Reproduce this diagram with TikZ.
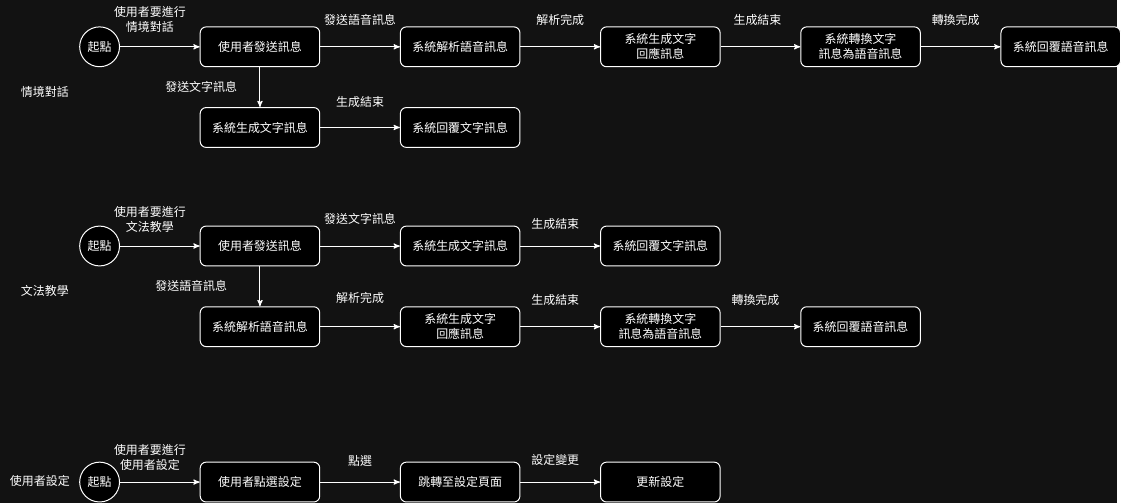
\documentclass[tikz,border=0pt]{standalone}
\usepackage{fontspec}
\setmainfont{Noto Sans CJK TC}
\usetikzlibrary{arrows,positioning}
\definecolor{canvas}{HTML}{121212}

\begin{document}
\begin{tikzpicture}[x=0.75pt,y=-0.75pt,
    font=\fontsize{9}{11.25}\selectfont, text=white,
    start/.style={circle,draw=white,fill=black,line width=0.75pt,minimum size=30pt,inner sep=0pt},
    stepbox/.style={rectangle,rounded corners=4.5pt,draw=white,fill=black,line width=0.75pt,
        minimum width=90pt,minimum height=30pt,inner sep=0pt,align=center},
    flow/.style={-stealth',draw=white,line width=0.75pt},
    lbl/.style={inner sep=0pt,align=center},
    node distance=30pt and 60pt]
    \fill[canvas] (0,0) rectangle (1121,505);

    % 情境對話
    \node[lbl] (t1) at (45,92) {情境對話};
    \node[start] (s1) at (100,47) {起點};
    \node[stepbox] (a1) [right=of s1] {使用者發送訊息};
    \node[stepbox] (b1) [right=of a1] {系統解析語音訊息};
    \node[stepbox] (c1) [right=of b1] {系統生成文字\\回應訊息};
    \node[stepbox] (d1) [right=of c1] {系統轉換文字\\訊息為語音訊息};
    \node[stepbox] (e1) [right=of d1] {系統回覆語音訊息};
    \node[stepbox] (f1) [below=of a1] {系統生成文字訊息};
    \node[stepbox] (g1) [right=of f1] {系統回覆文字訊息};
    \draw[flow] (s1) -- node[lbl,yshift=20.25pt,xshift=-7.5pt] {使用者要進行\\情境對話} (a1);
    \draw[flow] (a1) -- node[lbl,yshift=20.25pt] {發送語音訊息} (b1);
    \draw[flow] (b1) -- node[lbl,yshift=20.25pt] {解析完成} (c1);
    \draw[flow] (c1) -- node[lbl,yshift=20.25pt,xshift=-2.25pt] {生成結束} (d1);
    \draw[flow] (d1) -- node[lbl,yshift=20.25pt,xshift=-3.75pt] {轉換完成} (e1);
    \draw[flow] (a1) -- node[lbl,xshift=-44.25pt] {發送文字訊息} (f1);
    \draw[flow] (f1) -- node[lbl,yshift=19.5pt] {生成結束} (g1);

    % 文法教學
    \node[lbl] (t2) at (45,292) {文法教學};
    \node[start] (s2) at (100,247) {起點};
    \node[stepbox] (a2) [right=of s2] {使用者發送訊息};
    \node[stepbox] (b2) [right=of a2] {系統生成文字訊息};
    \node[stepbox] (c2) [right=of b2] {系統回覆文字訊息};
    \node[stepbox] (d2) [below=of a2] {系統解析語音訊息};
    \node[stepbox] (e2) [right=of d2] {系統生成文字\\回應訊息};
    \node[stepbox] (f2) [right=of e2] {系統轉換文字\\訊息為語音訊息};
    \node[stepbox] (g2) [right=of f2] {系統回覆語音訊息};
    \draw[flow] (s2) -- node[lbl,yshift=20.25pt,xshift=-7.5pt] {使用者要進行\\文法教學} (a2);
    \draw[flow] (a2) -- node[lbl,yshift=20.25pt] {發送文字訊息} (b2);
    \draw[flow] (b2) -- node[lbl,yshift=16.5pt,xshift=-3.75pt] {生成結束} (c2);
    \draw[flow] (a2) -- node[lbl,xshift=-51.75pt] {發送語音訊息} (d2);
    \draw[flow] (d2) -- node[lbl,yshift=21.75pt] {解析完成} (e2);
    \draw[flow] (e2) -- node[lbl,yshift=20.25pt,xshift=-3.75pt] {生成結束} (f2);
    \draw[flow] (f2) -- node[lbl,yshift=20.25pt,xshift=-3.75pt] {轉換完成} (g2);

    % 使用者設定
    \node[lbl] (t3) at (40,483) {使用者設定};
    \node[start] (s3) at (100,484) {起點};
    \node[stepbox] (a3) [right=of s3] {使用者點選設定};
    \node[stepbox] (b3) [right=of a3] {跳轉至設定頁面};
    \node[stepbox] (c3) [right=of b3] {更新設定};
    \draw[flow] (s3) -- node[lbl,yshift=18.75pt,xshift=-7.5pt] {使用者要進行\\使用者設定} (a3);
    \draw[flow] (a3) -- node[lbl,yshift=15.75pt] {點選} (b3);
    \draw[flow] (b3) -- node[lbl,yshift=16.5pt,xshift=-3.75pt] {設定變更} (c3);
\end{tikzpicture}
\end{document}
